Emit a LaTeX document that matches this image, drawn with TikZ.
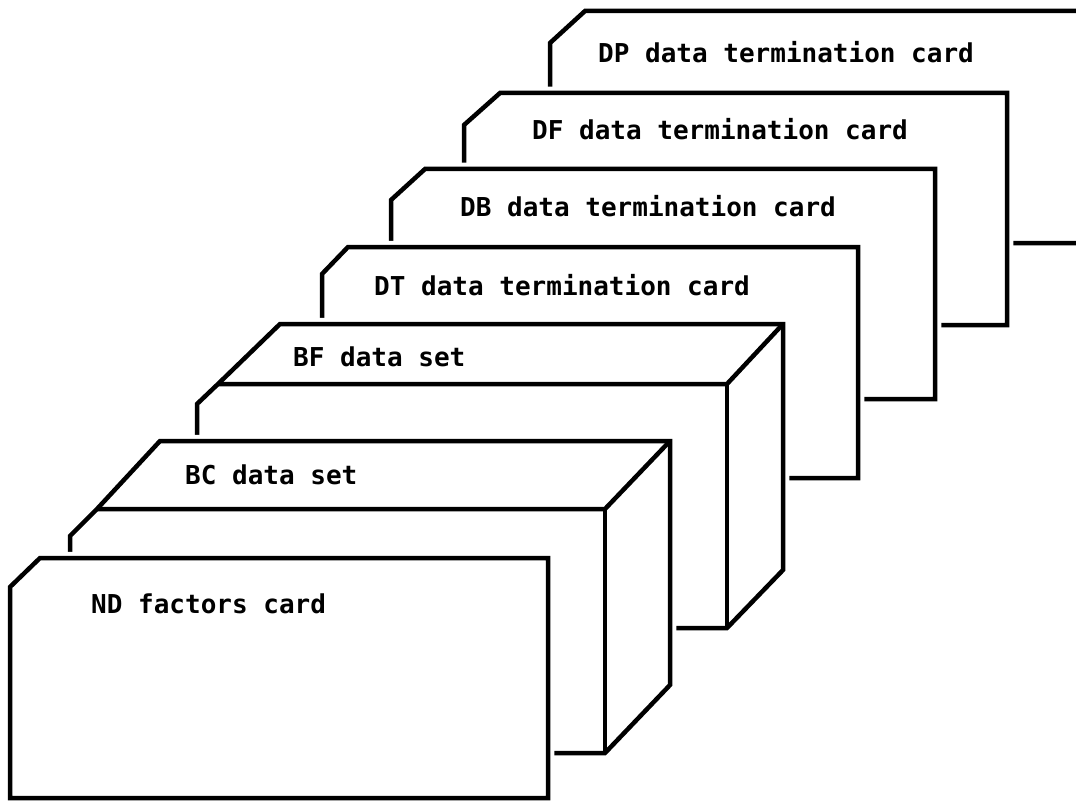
\documentclass[tikz,border=0pt]{standalone}
\usepackage{fontspec}
\setmonofont{DejaVu Sans Mono}
\begin{document}
\begin{tikzpicture}[x=1pt,y=-1pt,
  edge/.style={draw=black,line width=4.5pt,line join=miter},
  blank/.style={fill=white},
  halo/.style={draw=white,line width=12.5pt,line join=round},
  cardtext/.style={anchor=base west,inner sep=0pt,font=\fontsize{26}{26}\selectfont\ttfamily\bfseries}]
\useasboundingbox (0,0) rectangle (1076,805);
\begin{scope}
\clip (0,0) rectangle (1076,805);
% DP card (back-most)
\path[edge,blank] (550,43) -- (585,11) -- (1095,11) -- (1095,243) -- (550,243) -- cycle;
\node[cardtext] (dp) at (598,63) {DP data termination card};
% DF card
\path[halo] (464,125) -- (500,93) -- (1007,93) -- (1007,325) -- (464,325) -- cycle;
\path[edge,blank] (464,125) -- (500,93) -- (1007,93) -- (1007,325) -- (464,325) -- cycle;
\node[cardtext] (df) at (532,140) {DF data termination card};
% DB card
\path[halo] (391,200) -- (425,169) -- (935,169) -- (935,399) -- (391,399) -- cycle;
\path[edge,blank] (391,200) -- (425,169) -- (935,169) -- (935,399) -- (391,399) -- cycle;
\node[cardtext] (db) at (460,217) {DB data termination card};
% DT card
\path[halo] (322,274) -- (348,247) -- (858,247) -- (858,478) -- (322,478) -- cycle;
\path[edge,blank] (322,274) -- (348,247) -- (858,247) -- (858,478) -- (322,478) -- cycle;
\node[cardtext] (dt) at (374,295) {DT data termination card};
% BF data set (box)
\path[halo] (197,404) -- (218,384) -- (280,324) -- (783,324) -- (783,570) -- (727,628) -- (197,628) -- cycle;
\path[edge,blank] (197,404) -- (218,384) -- (280,324) -- (783,324) -- (783,570) -- (727,628) -- (197,628) -- cycle;
\draw[edge] (218,384) -- (727,384) -- (783,324);
\draw[edge] (727,384) -- (727,628);
\node[cardtext] (bf) at (293,366) {BF data set};
% BC data set (box)
\path[halo] (70,536) -- (97,509) -- (160,441) -- (670,441) -- (670,685) -- (605,753) -- (70,753) -- cycle;
\path[edge,blank] (70,536) -- (97,509) -- (160,441) -- (670,441) -- (670,685) -- (605,753) -- (70,753) -- cycle;
\draw[edge] (97,509) -- (605,509) -- (670,441);
\draw[edge] (605,509) -- (605,753);
\node[cardtext] (bc) at (185,484) {BC data set};
% ND factors card (front)
\path[halo] (10,587) -- (40,558) -- (548,558) -- (548,798) -- (10,798) -- cycle;
\path[edge,blank] (10,587) -- (40,558) -- (548,558) -- (548,798) -- (10,798) -- cycle;
\node[cardtext] (nd) at (91,613) {ND factors card};
\end{scope}
\end{tikzpicture}
\end{document}
